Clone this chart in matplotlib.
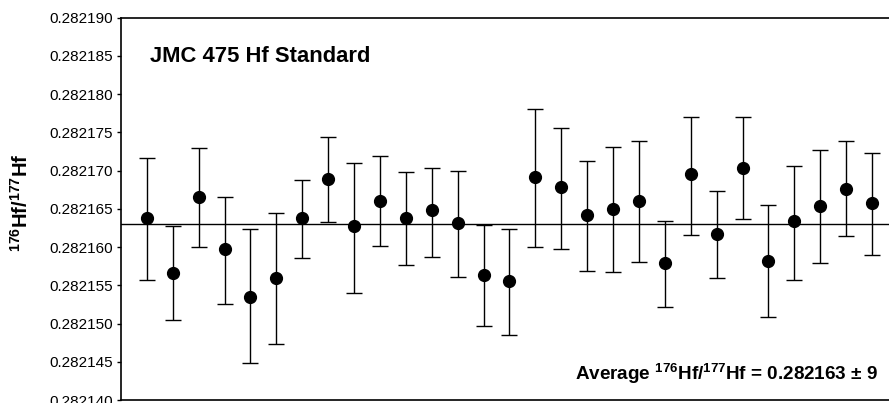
import numpy as np
import matplotlib
matplotlib.use("Agg")
import matplotlib.pyplot as plt
from matplotlib.ticker import MultipleLocator, FormatStrFormatter

plt.rcParams["font.family"] = ["Liberation Sans", "DejaVu Sans"]
plt.rcParams["mathtext.fontset"] = "custom"
plt.rcParams["mathtext.rm"] = "Liberation Sans"
plt.rcParams["mathtext.bf"] = "Liberation Sans:bold"

# measurement number, ratio, upper / lower end of error bar
run = np.arange(1, 30)
ratio = [0.2821638, 0.2821566, 0.2821665, 0.2821597, 0.2821535, 0.2821560,
         0.2821638, 0.2821689, 0.2821628, 0.2821660, 0.2821638, 0.2821648,
         0.2821632, 0.2821564, 0.2821556, 0.2821692, 0.2821679, 0.2821642,
         0.2821650, 0.2821660, 0.2821579, 0.2821695, 0.2821617, 0.2821703,
         0.2821582, 0.2821634, 0.2821654, 0.2821676, 0.2821658]
upper = [0.2821717, 0.2821627, 0.2821729, 0.2821666, 0.2821623, 0.2821645,
         0.2821688, 0.2821744, 0.2821710, 0.2821719, 0.2821698, 0.2821704,
         0.2821700, 0.2821629, 0.2821624, 0.2821781, 0.2821756, 0.2821712,
         0.2821731, 0.2821739, 0.2821634, 0.2821770, 0.2821673, 0.2821770,
         0.2821655, 0.2821706, 0.2821727, 0.2821739, 0.2821723]
lower = [0.2821557, 0.2821504, 0.2821600, 0.2821526, 0.2821448, 0.2821473,
         0.2821586, 0.2821633, 0.2821540, 0.2821602, 0.2821577, 0.2821587,
         0.2821561, 0.2821497, 0.2821485, 0.2821600, 0.2821597, 0.2821569,
         0.2821567, 0.2821581, 0.2821522, 0.2821616, 0.2821559, 0.2821637,
         0.2821508, 0.2821557, 0.2821579, 0.2821614, 0.2821590]
average = 0.282163

ratio = np.array(ratio)
err = [ratio - np.array(lower), np.array(upper) - ratio]

W, H = 889, 403
fig = plt.figure(figsize=(W / 100, H / 100), dpi=100)
ax = fig.add_axes([121 / W, 3 / H, 777 / W, 382.3 / H])

ax.errorbar(run, ratio, yerr=err, fmt="o", color="black", ms=8.5,
            ecolor="black", elinewidth=1.0, capsize=6, capthick=1.0)
ax.axhline(average, color="black", lw=1.0)

ax.set_xlim(0, 30)
ax.set_ylim(0.282140, 0.282190)
ax.yaxis.set_major_locator(MultipleLocator(0.000005))
ax.yaxis.set_major_formatter(FormatStrFormatter("%.6f"))
ax.set_xticks([])
ax.tick_params(axis="y", length=3, width=1, pad=3, labelsize=11)
for s in ["left", "top", "bottom", "right"]:
    ax.spines[s].set_linewidth(1.2)

fig.text(21 / W, 1 - 203 / H, r"$\mathbf{^{176}}$Hf/$\mathbf{^{177}}$Hf",
         fontsize=14.5, fontweight="bold", rotation=90, ha="center", va="center")

fig.text(150 / W, 1 - 56.7 / H, "JMC 475 Hf Standard", fontsize=15.8,
         fontweight="bold", ha="left", va="center")
fig.text(878 / W, 1 - 374 / H,
         r"Average $\mathbf{^{176}}$Hf/$\mathbf{^{177}}$Hf = 0.282163 ± 9",
         fontsize=13.6, fontweight="bold", ha="right", va="center")

fig.savefig("out.png", dpi=100)
